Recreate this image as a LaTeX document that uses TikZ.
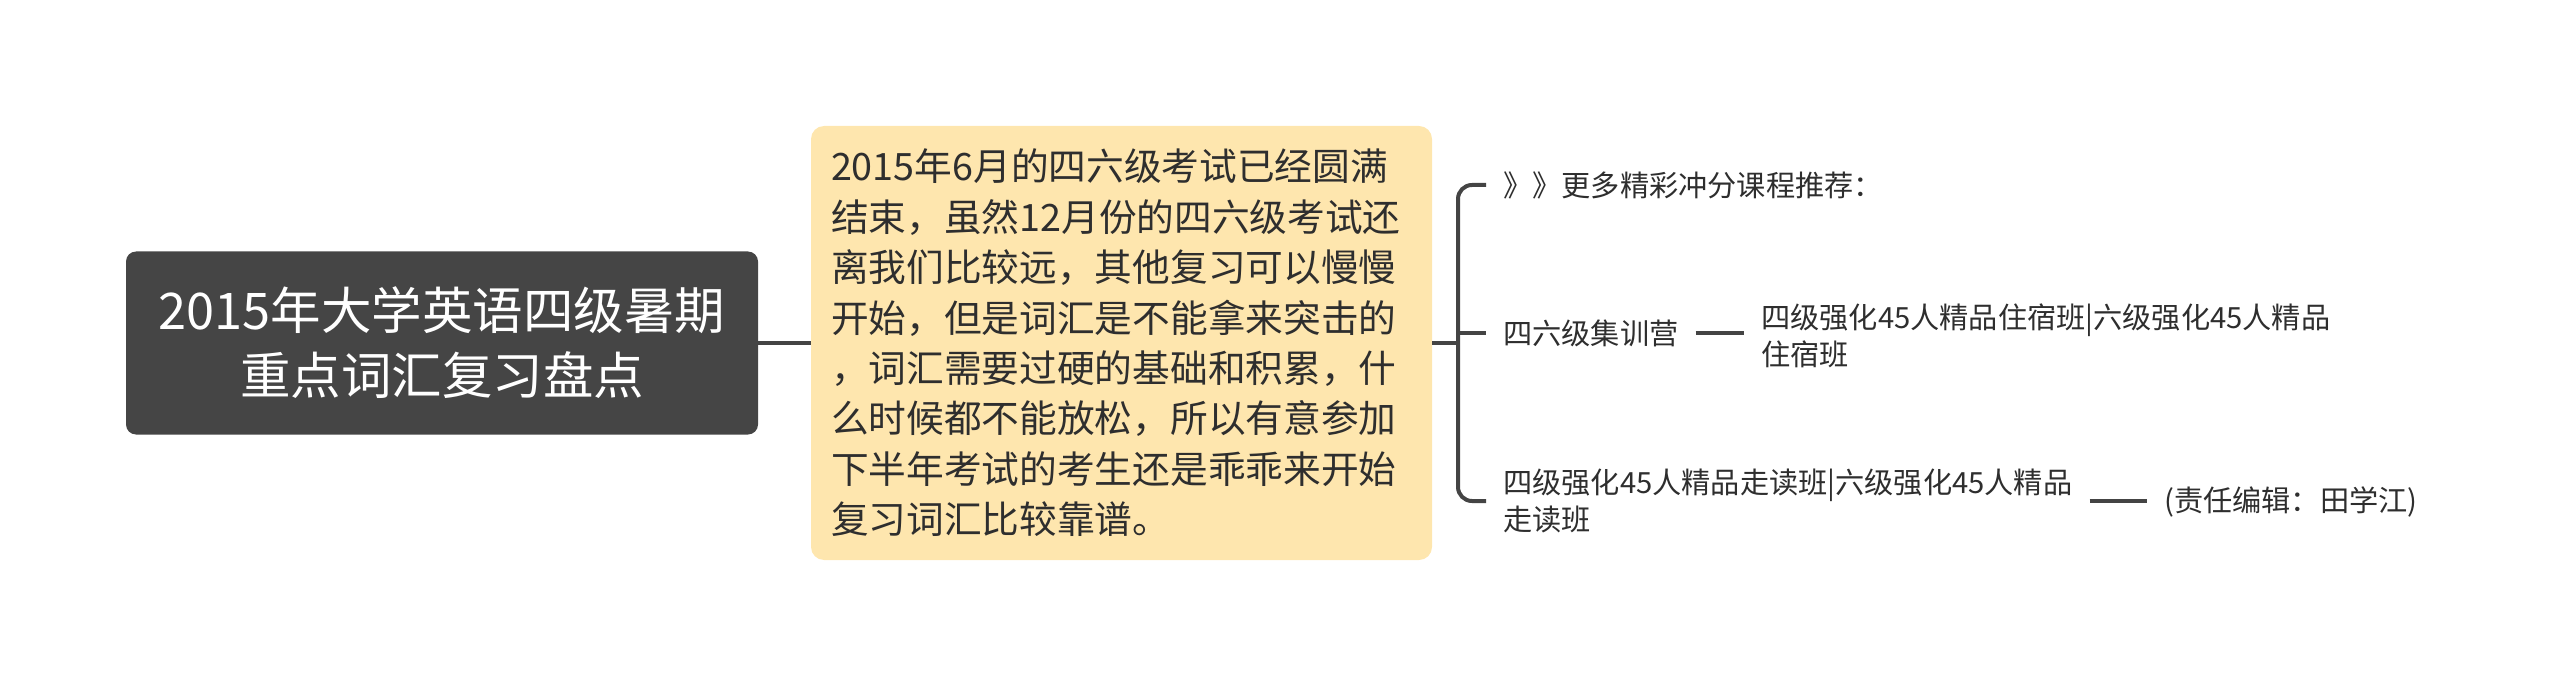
\documentclass[tikz,border=0pt]{standalone}
\usepackage{fontspec}
\setmainfont{Noto Sans CJK SC}
\definecolor{rootgray}{HTML}{454545}
\definecolor{midfill}{HTML}{FEE6AE}
\definecolor{linegray}{HTML}{444444}
\definecolor{textgray}{HTML}{2E2E2E}
\tikzset{
  rootbox/.style={fill=rootgray, rounded corners=10pt, text=white, align=center,
    font=\fontsize{50.5}{65}\selectfont, inner sep=0pt, minimum width=632pt, minimum height=183pt},
  midbox/.style={fill=midfill, rounded corners=13pt, text=textgray, align=left,
    font=\fontsize{37.7}{50.4}\selectfont, inner xsep=20pt, inner ysep=0pt,
    text width=581pt, minimum height=434pt},
  leaf/.style={font=\fontsize{29.2}{37.5}\selectfont, text=textgray, inner xsep=17pt,
    inner ysep=0pt, anchor=west, align=left},
  conn/.style={draw=linegray, line width=4pt}
}
\begin{document}
\begin{tikzpicture}[x=1pt,y=-1pt]
\useasboundingbox (0,0) rectangle (2560,687);
\node[rootbox] (root) at (442,343) {2015年大学英语四级暑期\\重点词汇复习盘点};
\node[midbox] (mid) at (1121.5,343) {2015年6月的四六级考试已经圆满\\结束，虽然12月份的四六级考试还\\离我们比较远，其他复习可以慢慢\\开始，但是词汇是不能拿来突击的\\，词汇需要过硬的基础和积累，什\\么时候都不能放松，所以有意参加\\下半年考试的考生还是乖乖来开始\\复习词汇比较靠谱。};
\node[leaf] (l1) at (1486,185) {》》更多精彩冲分课程推荐：};
\node[leaf] (l2) at (1486,333) {四六级集训营};
\node[leaf] (l2c) at (1744,336) {四级强化45人精品住宿班|六级强化45人精品\\住宿班};
\node[leaf] (l3) at (1486,501) {四级强化45人精品走读班|六级强化45人精品\\走读班};
\node[leaf] (ed) at (2147,502) {(责任编辑：田学江)};
\coordinate (bx) at (1458,343);
\draw[conn] (root.east) -- (mid.west);
\draw[conn] (mid.east) -- (bx);
\draw[conn, rounded corners=14pt] (l1.west) -| (bx) |- (l3.west);
\draw[conn] (bx |- l2.west) -- (l2.west);
\draw[conn] (l2.east) -- (l2.east -| l2c.west);
\draw[conn] (l3.east) -- (l3.east -| ed.west);
\end{tikzpicture}
\end{document}
